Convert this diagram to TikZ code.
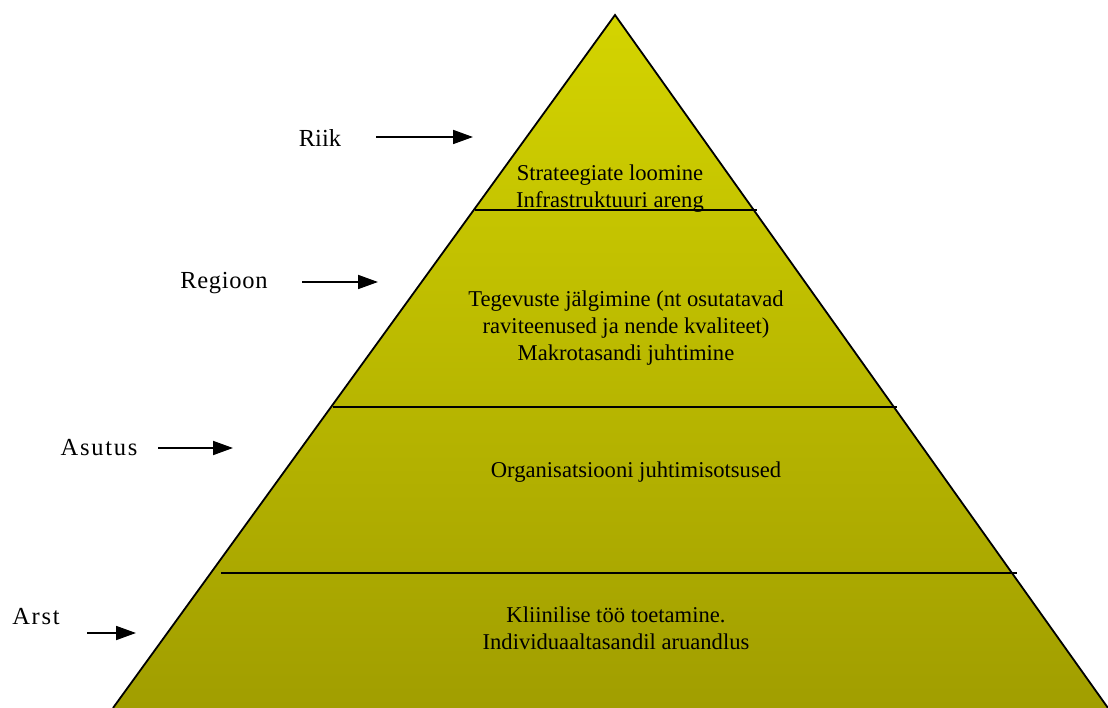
\documentclass[tikz,border=0pt]{standalone}
\usepackage{fontspec}
\setmainfont{Liberation Serif}
\usetikzlibrary{arrows.meta}
\definecolor{pyrtop}{RGB}{212,212,0}
\definecolor{pyrbot}{RGB}{161,158,0}
\tikzset{
  lvl/.style={font=\fontsize{22.6}{27}\selectfont, align=center, inner sep=0pt},
  lbl/.style={font=\fontsize{24.5}{28}\selectfont\addfontfeature{LetterSpace=#1}, inner sep=0pt},
  divider/.style={line width=1.6pt, black},
  side/.style={line width=1.8pt, black},
  pointer/.style={line width=1.8pt, -{Triangle[length=20pt,width=14pt]}}
}
\begin{document}
\begin{tikzpicture}[x=1pt,y=-1pt]
\useasboundingbox (0,0) rectangle (1108,708);
% pyramid
\coordinate (apex) at (615,15);
\coordinate (bl) at (113,708);
\coordinate (br) at (1108,708);
\shade[top color=pyrtop, bottom color=pyrbot] (apex) -- (bl) -- (br) -- cycle;
\draw[side] (bl) -- (apex) -- (br);
% dividers
\draw[divider] (475,210) -- (757,210);
\draw[divider] (333,407) -- (897,407);
\draw[divider] (221,573) -- (1017,573);
% level texts
\node[lvl] (t1) at (610,189) {Strateegiate loomine\\Infrastruktuuri areng};
\node[lvl] (t2) at (626,328) {Tegevuste jälgimine (nt osutatavad\\raviteenused ja nende kvaliteet)\\Makrotasandi juhtimine};
\node[lvl] (t3) at (636,472) {Organisatsiooni juhtimisotsused};
\node[lvl] (t4) at (616,628) {Kliinilise töö toetamine.\\Individuaaltasandil aruandlus};
% labels
\node[lbl=0] (riik) at (320,138) {Riik};
\node[lbl=3] (regioon) at (224,283) {Regioon};
\node[lbl=7] (asutus) at (99,448) {Asutus};
\node[lbl=7] (arst) at (36,617) {Arst};
% arrows
\coordinate (a1s) at (376,137); \coordinate (a1e) at (473,137);
\coordinate (a2s) at (302,282); \coordinate (a2e) at (378,282);
\coordinate (a3s) at (158,448); \coordinate (a3e) at (233,448);
\coordinate (a4s) at (87,633);  \coordinate (a4e) at (136,633);
\draw[pointer] (a1s) -- (a1e);
\draw[pointer] (a2s) -- (a2e);
\draw[pointer] (a3s) -- (a3e);
\draw[pointer] (a4s) -- (a4e);
\end{tikzpicture}
\end{document}
